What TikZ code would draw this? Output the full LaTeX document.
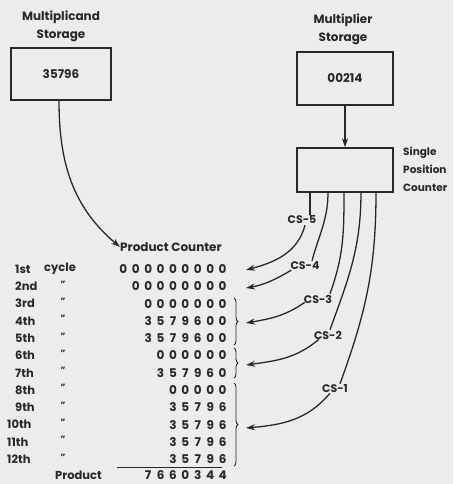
\documentclass[tikz,border=0pt]{standalone}
\usepackage{fontspec}
\setmainfont{Poppins}
\usepackage{xcolor}
\definecolor{paper}{RGB}{236,236,234}
\definecolor{ink}{RGB}{40,40,40}
\usetikzlibrary{arrows.meta,positioning,calc,decorations.pathreplacing}
% spread the digits of a counter row
\newcommand\spreaddigits[1]{\spreadaux#1\relax}
\def\spreadaux#1{\ifx#1\relax\else\makebox[12.4pt]{#1}\expandafter\spreadaux\fi}
\tikzset{
  storebox/.style={rectangle,draw=ink,line width=1.5pt,
    minimum width=100pt,minimum height=52pt,
    font=\fontsize{12}{14}\selectfont\bfseries,text=ink},
  caption/.style={align=center,text=ink,
    font=\fontsize{12}{18}\selectfont\bfseries,inner sep=0pt},
  row/.style={anchor=east,inner sep=0pt,text=ink,
    font=\fontsize{12}{14}\selectfont\bfseries},
  ord/.style={anchor=west,inner sep=0pt,text=ink,
    font=\fontsize{11.5}{14}\selectfont\bfseries},
  ditto/.style={inner sep=0pt,text=ink,font=\fontsize{9}{10}\selectfont\bfseries},
  cslbl/.style={inner sep=1pt,text=ink,font=\fontsize{11}{12}\selectfont\bfseries},
  arr/.style={-{Stealth[length=9pt,width=6pt]},line width=1.3pt,draw=ink},
  wire/.style={line width=1.3pt,draw=ink},
  grp/.style={decorate,decoration={brace,amplitude=4pt},line width=0.9pt,draw=ink},
}
\begin{document}
\begin{tikzpicture}[x=1pt,y=1pt]

  \useasboundingbox[fill=paper] (0,0) rectangle (453,-484);

  % storage units
  \node (mcandlbl) [caption] at (61,-26) {Multiplicand\\Storage};
  \node (mcand) [storebox,minimum width=100pt,minimum height=52pt] at (61,-74) {35796};

  \node (mplierlbl) [caption] at (343,-29) {Multiplier\\Storage};
  \node (mplier) [storebox,minimum width=96pt,minimum height=53pt] at (345,-78.5) {00214};

  \node (spc) [storebox,minimum width=96pt,minimum height=44pt] at (345,-170) {};
  \node (spclbl) [caption,anchor=north west,align=left,
                  font=\fontsize{10.5}{18}\selectfont\bfseries] at (403,-147)
    {Single\\Position\\Counter};

  % product counter
  \node (pclbl) [caption] at (171,-247) {Product Counter};

  \node (c1) [ord] at (15,-269) {1st};
  \node (cyc) [ord] at (44,-269) {cycle};
  \node (r1) [row] at (229,-269) {\spreaddigits{000000000}};

  \node (c2) [ord] at (15,-286.3) {2nd};
  \node (d2) [ditto] at (63,-284) {"};
  \node (r2) [row] at (229,-286.3) {\spreaddigits{00000000}};

  \node (c3) [ord] at (15,-303.6) {3rd};
  \node (d3) [ditto] at (63,-301.3) {"};
  \node (r3) [row] at (229,-303.6) {\spreaddigits{0000000}};

  \node (c4) [ord] at (15,-320.9) {4th};
  \node (d4) [ditto] at (63,-318.6) {"};
  \node (r4) [row] at (229,-320.9) {\spreaddigits{3579600}};

  \node (c5) [ord] at (15,-338.2) {5th};
  \node (d5) [ditto] at (63,-335.9) {"};
  \node (r5) [row] at (229,-338.2) {\spreaddigits{3579600}};

  \node (c6) [ord] at (15,-355.5) {6th};
  \node (d6) [ditto] at (63,-353.2) {"};
  \node (r6) [row] at (229,-355.5) {\spreaddigits{000000}};

  \node (c7) [ord] at (15,-372.8) {7th};
  \node (d7) [ditto] at (63,-370.5) {"};
  \node (r7) [row] at (229,-372.8) {\spreaddigits{357960}};

  \node (c8) [ord] at (15,-390.1) {8th};
  \node (d8) [ditto] at (63,-387.8) {"};
  \node (r8) [row] at (229,-390.1) {\spreaddigits{00000}};

  \node (c9) [ord] at (15,-407.4) {9th};
  \node (d9) [ditto] at (63,-405.1) {"};
  \node (r9) [row] at (229,-407.4) {\spreaddigits{35796}};

  \node (c10) [ord] at (7,-424.7) {10th};
  \node (d10) [ditto] at (63,-422.4) {"};
  \node (r10) [row] at (229,-424.7) {\spreaddigits{35796}};

  \node (c11) [ord] at (7,-442) {11th};
  \node (d11) [ditto] at (63,-439.7) {"};
  \node (r11) [row] at (229,-442) {\spreaddigits{35796}};

  \node (c12) [ord] at (7,-459.3) {12th};
  \node (d12) [ditto] at (63,-457) {"};
  \node (r12) [row] at (229,-459.3) {\spreaddigits{35796}};

  \node (prodlbl) [ord] at (55,-475.5) {Product};
  \node (prod) [row] at (229,-475.5) {\spreaddigits{7660344}};

  \draw[line width=0.9pt,draw=ink] (117,-467.5) -- (222,-467.5);

  % cycle groups
  \draw[grp] (234,-298) -- (234,-345);
  \draw[grp] (234,-348) -- (234,-378);
  \draw[grp] (234,-383) -- (234,-466);

  % counter selector lines
  \coordinate (s5) at (310,-192);
  \coordinate (s4) at (328,-192);
  \coordinate (s3) at (344,-192);
  \coordinate (s2) at (361,-192);
  \coordinate (s1) at (376,-192);

  \coordinate (t5) at (246,-270);
  \coordinate (t4) at (246,-288);
  \coordinate (t3) at (246,-323);
  \coordinate (t2) at (246,-365);
  \coordinate (t1) at (246,-428);

  \node (cs5) [cslbl] at (302,-220) {CS-5};
  \node (cs4) [cslbl] at (305,-266) {CS-4};
  \node (cs3) [cslbl] at (318,-299) {CS-3};
  \node (cs2) [cslbl] at (328,-335) {CS-2};
  \node (cs1) [cslbl] at (335,-389) {CS-1};

  \draw[arr] (mplier) -- (spc);
  \draw[arr] (mcand.south) ++(-2,0) to[out=-90,in=140] (pclbl.west);

  \draw[wire] (s5) -- (s5 |- cs5.north);
  \draw[arr] ($(cs5.south)+(3,0)$) to[out=-105,in=15] (t5);

  \draw[wire] (s4) to[out=-90,in=75] ($(cs4.north)+(7,0)$);
  \draw[arr] ($(cs4.south west)+(2,1)$) to[out=-150,in=10] (t4);

  \draw[wire] (s3) to[out=-90,in=70] ($(cs3.north)+(12,0)$);
  \draw[arr] ($(cs3.south west)+(2,2)$) to[out=-145,in=10] (t3);

  \draw[wire] (s2) to[out=-90,in=70] ($(cs2.north)+(2,0)$);
  \draw[arr] ($(cs2.south west)+(6,1)$) to[out=-140,in=8] (t2);

  \draw[wire] (s1) to[out=-90,in=70] ($(cs1.north)+(5,0)$);
  \draw[arr] ($(cs1.south west)+(9,1)$) to[out=-130,in=5] (t1);

\end{tikzpicture}
\end{document}
